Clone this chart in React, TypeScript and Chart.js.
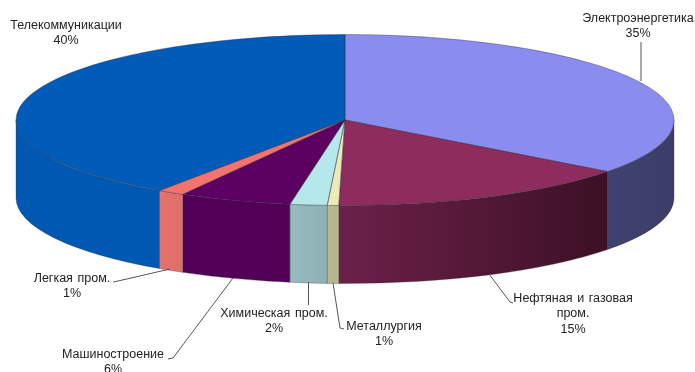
import React, { useEffect, useRef } from "react";
import { Chart, registerables } from "chart.js";

Chart.register(...registerables);

// Shares of the sectors, clockwise from twelve o'clock.
const sectors = [
  "Электроэнергетика",
  "Нефтяная и газовая\nпром.",
  "Металлургия",
  "Химическая пром.",
  "Машиностроение",
  "Легкая пром.",
  "Телекоммуникации",
];
const shares = [35.3, 15.0, 0.56, 1.82, 5.53, 1.33, 40.46];
const topColors = ["#8b8cf0", "#8e2c5e", "#eeeab8", "#b4e8ea", "#5c0062", "#f4736e", "#005cb8"];
const wallLeft = ["#3f4170", "#6c2149", "#b9b98f", "#95bcbf", "#520058", "#e4736c", "#0058b2"];
const wallRight = ["#3c3e68", "#3c1025", "#b4b48a", "#8fb0b4", "#520056", "#de6e68", "#0058b4"];

// The disc is flattened into an ellipse and extruded downwards.
const disc = { cx: 345, cy: 120, rx: 329, ry: 85.5, depth: 78 };

// Callout placement: text centre, first baseline, leader polyline.
const callouts: { x: number; y: number; leader: number[][] }[] = [
  { x: 638, y: 22, leader: [[641, 81], [641, 42]] },
  { x: 573, y: 302, leader: [[489, 274], [510, 302], [513, 303]] },
  { x: 384, y: 330, leader: [[333, 283], [340, 328], [344, 329]] },
  { x: 274, y: 317, leader: [[308.5, 282], [308.5, 305]] },
  { x: 113, y: 358, leader: [[233, 278], [173, 358], [168, 359]] },
  { x: 72, y: 282, leader: [[170, 269], [118, 281], [113, 282]] },
  { x: 66, y: 29, leader: [] },
];

const tiltPlugin = {
  id: "tilt",
  beforeDatasetDraw(chart: Chart) {
    const ctx = chart.ctx;
    const arcs = chart.getDatasetMeta(0).data as any[];
    const { cx, cy, rx, ry, depth } = disc;
    // Side walls: only the part of each slice facing the viewer (0..PI).
    arcs.forEach((arc, i) => {
      const s = Math.max(arc.startAngle, 0);
      const e = Math.min(arc.endAngle, Math.PI);
      if (e <= s) return;
      const x0 = cx + rx * Math.cos(e);
      const x1 = cx + rx * Math.cos(s);
      const fill = ctx.createLinearGradient(x0, 0, x1, 0);
      fill.addColorStop(0, wallLeft[i]);
      fill.addColorStop(1, wallRight[i]);
      ctx.beginPath();
      ctx.ellipse(cx, cy, rx, ry, 0, s, e);
      ctx.ellipse(cx, cy + depth, rx, ry, 0, e, s, true);
      ctx.closePath();
      ctx.fillStyle = fill;
      ctx.fill();
      ctx.strokeStyle = "rgba(50,50,50,0.45)";
      ctx.lineWidth = 0.7;
      ctx.stroke();
    });
    // Chart.js paints the top face through this transform.
    const first = arcs[0];
    const k = first.outerRadius;
    ctx.save();
    ctx.translate(cx, cy);
    ctx.scale(rx / k, ry / k);
    ctx.translate(-first.x, -first.y);
  },
  afterDatasetDraw(chart: Chart) {
    const ctx = chart.ctx;
    ctx.restore();
    const { cx, cy, rx, ry } = disc;
    (chart.getDatasetMeta(0).data as any[]).forEach((arc) => {
      ctx.beginPath();
      ctx.moveTo(cx, cy);
      ctx.ellipse(cx, cy, rx, ry, 0, arc.startAngle, arc.endAngle);
      ctx.closePath();
      ctx.strokeStyle = "rgba(45,45,55,0.55)";
      ctx.lineWidth = 0.7;
      ctx.stroke();
    });
  },
  afterDraw(chart: Chart) {
    const ctx = chart.ctx;
    ctx.save();
    ctx.strokeStyle = "#555";
    ctx.lineWidth = 1;
    ctx.fillStyle = "#222";
    ctx.font = '12.5px "Liberation Sans", Arial, sans-serif';
    ctx.textAlign = "center";
    ctx.textBaseline = "alphabetic";
    (ctx as any).wordSpacing = "1.2px";
    callouts.forEach((c, i) => {
      if (c.leader.length) {
        ctx.beginPath();
        c.leader.forEach(([x, y], j) => (j ? ctx.lineTo(x, y) : ctx.moveTo(x, y)));
        ctx.stroke();
      }
      const lines = [...sectors[i].split("\n"), `${Math.round(shares[i])}%`];
      lines.forEach((line, j) => ctx.fillText(line, c.x, c.y + j * 15.3));
    });
    ctx.restore();
  },
};

export default function App() {
  const ref = useRef<HTMLCanvasElement>(null);
  useEffect(() => {
    const chart = new Chart(ref.current!, {
      type: "pie",
      data: {
        labels: sectors,
        datasets: [
          {
            data: shares,
            backgroundColor: topColors,
            borderWidth: 0,
            clip: false,
          } as any,
        ],
      },
      options: {
        animation: false,
        responsive: false,
        events: [],
        plugins: { legend: { display: false }, tooltip: { enabled: false } },
      },
      plugins: [tiltPlugin],
    });
    return () => chart.destroy();
  }, []);
  return (
    <div style={{ position: "fixed", left: 0, top: 0, width: 695, height: 372, background: "#fff" }}>
      <canvas ref={ref} width={695} height={372} style={{ display: "block" }} />
    </div>
  );
}
